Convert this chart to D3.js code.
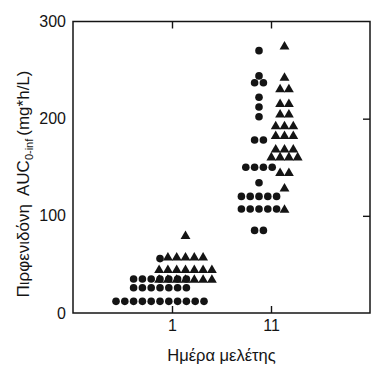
<!DOCTYPE html>
<html>
<head>
<meta charset="utf-8">
<script src="https://cdn.jsdelivr.net/npm/d3@7"></script>
<style>
  html, body { margin: 0; padding: 0; background: #fff; }
  svg { display: block; font-family: "Liberation Sans", Arial, Helvetica, sans-serif; }
</style>
</head>
<body>
<svg id="chart" width="372" height="365"></svg>
<script>
// ---- data ----
const days = ["1", "11"];
const yTicks = [0, 100, 200, 300];
// AUC values, one per subject
const day1Circles = [12,12,12,12,12,12,12,12,12,12,12, 26,26,26,26,26,26,26, 35,35,35,35,35,35,35, 56];
const day1Triangles = [79, 57,57,57,57,57, 44,44,44,44,44,44,44, 34,34,34,34,34,34,34];
const day11Circles = [270, 244, 237,237, 222, 212, 202, 178,178, 150,150,150,150, 134,
                      120,120,120,120,120, 107,107,107,107,107, 85,85];
const day11Triangles = [274, 242, 230,230, 215,215, 204,204, 192,192,192, 182,182,182,
                        168,168,168, 160,160,160,160, 144,144, 128, 106];
const xTitle = "Ημέρα μελέτης";

// ---- layout ----
const plotL = 73, plotR = 370, plotT = 21.5, plotB = 313;
const svg = d3.select("#chart");
const ink = "#141414";

const x = d3.scalePoint().domain(days).range([plotL, plotR]).padding(1);
const y = d3.scaleLinear().domain([0, 300]).range([plotB, plotT]);

const spacing = 8.8;
const circleOffset = -12, triOffset = 13.5;

function layout(values, day, offset) {
  const groups = d3.groups(values, v => v);
  const pts = [];
  groups.forEach(([v, arr]) => {
    const n = arr.length;
    arr.forEach((_, i) => {
      pts.push({ v, cx: x(day) + offset + (i - (n - 1) / 2) * spacing, cy: y(v) });
    });
  });
  return pts;
}

const circles = [
  ...layout(day1Circles, "1", circleOffset),
  ...layout(day11Circles, "11", circleOffset)
];
const triangles = [
  ...layout(day1Triangles, "1", triOffset),
  ...layout(day11Triangles, "11", triOffset)
];

// frame
svg.append("rect")
  .attr("x", plotL).attr("y", plotT)
  .attr("width", plotR - plotL).attr("height", plotB - plotT)
  .attr("fill", "none").attr("stroke", ink).attr("stroke-width", 1.5);

// axes
const fontSize = 16;
const gB = svg.append("g").attr("transform", `translate(0,${plotB})`)
  .call(d3.axisBottom(x).tickSizeInner(-7).tickSizeOuter(0).tickPadding(7));
const gT = svg.append("g").attr("transform", `translate(0,${plotT})`)
  .call(d3.axisTop(x).tickSizeInner(-7).tickSizeOuter(0).tickFormat(""));
const gL = svg.append("g").attr("transform", `translate(${plotL},0)`)
  .call(d3.axisLeft(y).tickValues(yTicks).tickSize(0).tickPadding(7));
const gR = svg.append("g").attr("transform", `translate(${plotR},0)`)
  .call(d3.axisRight(y).tickValues([100, 200]).tickSizeInner(-7).tickSizeOuter(0).tickFormat(""));
[gB, gT, gL, gR].forEach(g => {
  g.select(".domain").remove();
  g.selectAll("line").attr("stroke", ink).attr("stroke-width", 1.4);
  g.selectAll("text").attr("fill", ink).attr("font-size", fontSize)
    .attr("font-family", "'Liberation Sans', Arial, sans-serif");
});

// marks
svg.append("g").selectAll("circle").data(circles).join("circle")
  .attr("cx", d => d.cx).attr("cy", d => d.cy).attr("r", 3.8).attr("fill", ink);
const tri = d3.symbol().type(d3.symbolTriangle).size(42);
svg.append("g").selectAll("path").data(triangles).join("path")
  .attr("transform", d => `translate(${d.cx},${d.cy})`)
  .attr("d", tri).attr("fill", ink);

// titles
svg.append("text")
  .attr("x", (plotL + plotR) / 2).attr("y", 361)
  .attr("text-anchor", "middle").attr("font-size", 16.5).attr("fill", ink)
  .text(xTitle);

const yt = svg.append("text")
  .attr("transform", "translate(29,184) rotate(-90)")
  .attr("text-anchor", "middle").attr("font-size", 17).attr("fill", ink);
yt.append("tspan").text("Πιρφενιδόνη");
yt.append("tspan").attr("dx", 8).text("AUC");
yt.append("tspan").attr("font-size", 11).attr("dy", 4).text("0-inf");
yt.append("tspan").attr("dy", -4).attr("dx", 3).text("(mg*h/L)");
</script>
</body>
</html>
